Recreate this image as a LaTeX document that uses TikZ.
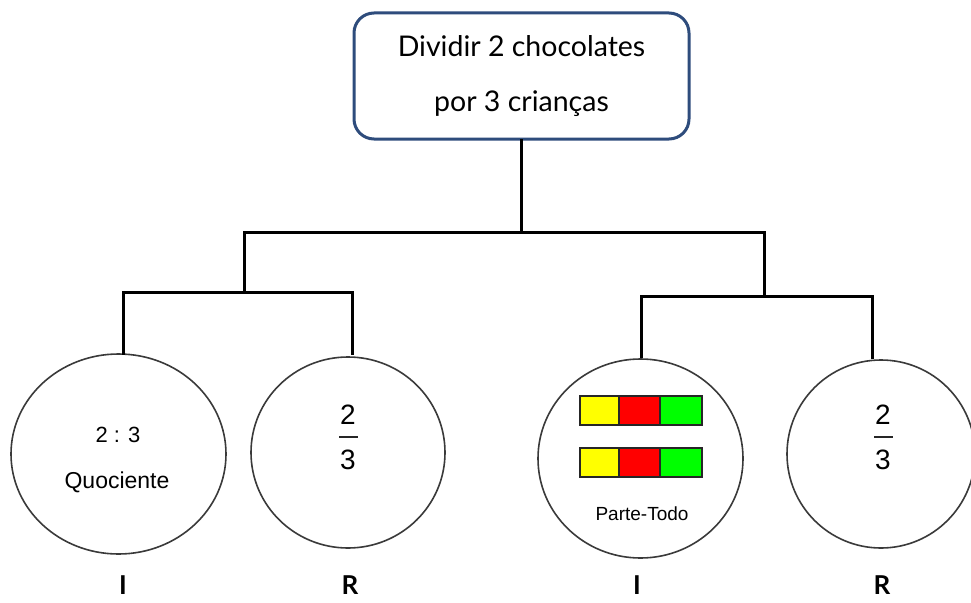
\documentclass[tikz,border=0pt]{standalone}
\usepackage{fontspec}
\setmainfont{Lato}
\newfontfamily\smallsans{Liberation Sans}
\usetikzlibrary{shapes.geometric}
\definecolor{boxblue}{HTML}{2E4C7C}
\definecolor{ringgray}{HTML}{3A3A3A}
\definecolor{barYellow}{HTML}{FFFF00}
\definecolor{barRed}{HTML}{FF0000}
\definecolor{barGreen}{HTML}{00FF00}
\tikzset{
  topbox/.style={draw=boxblue, line width=3pt, rounded corners=20pt, fill=white,
    minimum width=335pt, minimum height=126pt, inner sep=0pt, align=center,
    font=\fontsize{28.5}{55}\selectfont},
  ring/.style={draw=ringgray, line width=1.6pt, ellipse, fill=white, inner sep=0pt},
  link/.style={line width=3pt, line cap=rect},
  kind/.style={font=\fontsize{26}{26}\selectfont\bfseries, inner sep=0pt, anchor=base},
  digit/.style={font=\smallsans\fontsize{28}{28}\selectfont, inner sep=0pt},
  fracbar/.style={line width=1.5pt, color=black!85},
  cell/.style={draw=black!85, line width=1.5pt},
}
\begin{document}
\begin{tikzpicture}[x=1pt, y=-1pt]
\useasboundingbox (0,0) rectangle (971,602);

% root question
\node[topbox] (top) at (521.5,76) {Dividir 2 chocolates\\por 3 crianças};

% the four interpretation circles
\node[ring, minimum width=215pt, minimum height=200pt] (c1) at (118.5,454) {};
\node[ring, minimum width=194pt, minimum height=191pt] (c2) at (348,452.5) {};
\node[ring, minimum width=205pt, minimum height=199pt] (c3) at (640.5,458.5) {};
\node[ring, minimum width=188pt, minimum height=188pt] (c4) at (881,454) {};

% branch junctions
\coordinate (jL) at (244,232);
\coordinate (jR) at (764,232);
\coordinate (kL) at (244,292);
\coordinate (kR) at (764,296);
\coordinate (t1) at (123,353);
\coordinate (t2) at (352,353);
\coordinate (t3) at (641,356);
\coordinate (t4) at (872,357);

% tree connectors
\draw[link] (top.south) -- (top.south |- jL);
\draw[link] (jL) -- (jR);
\draw[link] (jL) -- (kL);
\draw[link] (jR) -- (kR);
\draw[link] (t1) |- (kL) -| (t2);
\draw[link] (t3) |- (kR) -| (t4);

% circle 1: quotient
\node[font=\smallsans\fontsize{22}{22}\selectfont] (q1) at (118,435) {2 : 3};
\node[font=\smallsans\fontsize{23}{23}\selectfont] (q2) at (117,482) {Quociente};

% circle 2: ratio fraction
\node[digit] (n2) at (348,415) {2};
\draw[fracbar] (339,437) -- (358,437);
\node[digit] (d2) at (348,460) {3};

% circle 3: part-whole bars
\foreach \y in {396,448} {
  \fill[barYellow] (580,\y) rectangle (619,\y+29);
  \fill[barRed] (619,\y) rectangle (660,\y+29);
  \fill[barGreen] (660,\y) rectangle (702,\y+29);
  \draw[cell] (580,\y) rectangle (702,\y+29);
  \draw[cell] (619,\y) -- (619,\y+29);
  \draw[cell] (660,\y) -- (660,\y+29);
}
\node[font=\smallsans\fontsize{19}{19}\selectfont] (pt) at (642,514) {Parte-Todo};

% circle 4: ratio fraction
\node[digit] (n4) at (883,415) {2};
\draw[fracbar] (874,437) -- (893,437);
\node[digit] (d4) at (883,460) {3};

% labels under the circles
\node[kind] (l1) at (123,594) {I};
\node[kind] (l2) at (350,594) {R};
\node[kind] (l3) at (637,594) {I};
\node[kind] (l4) at (882,594) {R};
\end{tikzpicture}
\end{document}
